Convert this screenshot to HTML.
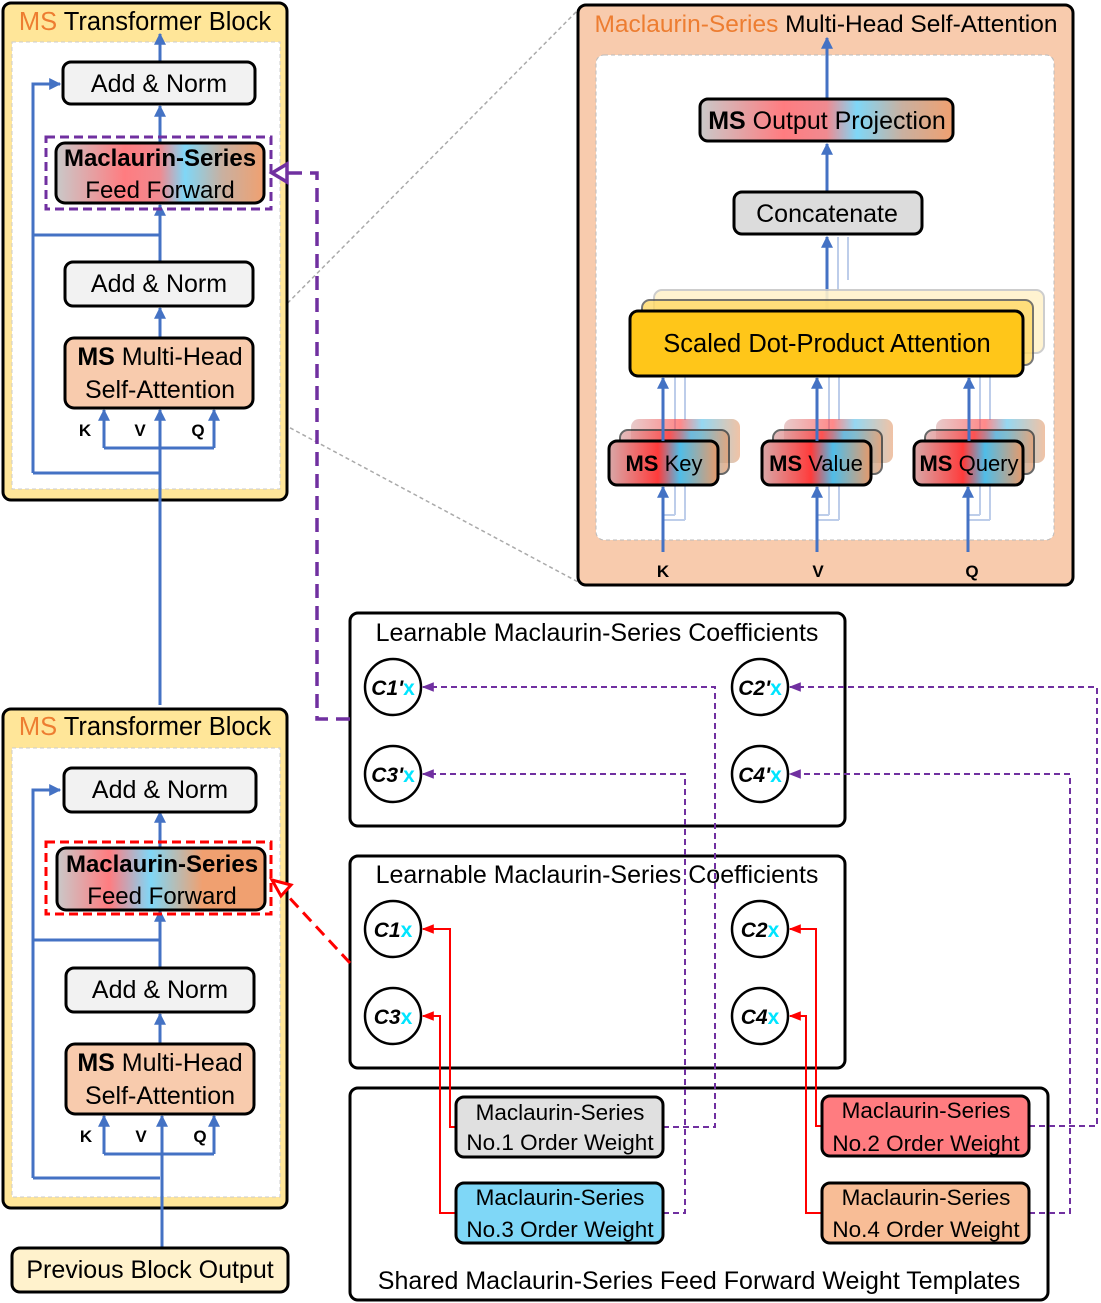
<!DOCTYPE html>
<html><head><meta charset="utf-8"><style>
html,body{margin:0;padding:0;background:#fff;}
svg{display:block;font-family:"Liberation Sans",sans-serif;}
</style></head><body>
<svg width="1101" height="1303" viewBox="0 0 1101 1303" xmlns="http://www.w3.org/2000/svg">
<defs>
<linearGradient id="ff1" x1="0" x2="1" y1="0" y2="0">
<stop offset="0" stop-color="#c9c9c9"/><stop offset="0.33" stop-color="#ff7c80"/><stop offset="0.5" stop-color="#f08a90"/><stop offset="0.62" stop-color="#7fd7f7"/><stop offset="0.8" stop-color="#c9b0a0"/><stop offset="1" stop-color="#f0a070"/>
</linearGradient>
<linearGradient id="ff2" x1="0" x2="1" y1="0" y2="0">
<stop offset="0" stop-color="#c9c9c9"/><stop offset="0.25" stop-color="#ff7c80"/><stop offset="0.45" stop-color="#7fd7f7"/><stop offset="0.7" stop-color="#f0a070"/><stop offset="1" stop-color="#f0a070"/>
</linearGradient>
<linearGradient id="kg" x1="0" x2="1" y1="0" y2="0">
<stop offset="0" stop-color="#d8a8a8"/><stop offset="0.45" stop-color="#ff3b3b"/><stop offset="0.65" stop-color="#4fbde8"/><stop offset="1" stop-color="#e79a6a"/>
</linearGradient>
<marker id="ab" viewBox="0 0 10 10" refX="9" refY="5" markerWidth="4" markerHeight="4" orient="auto"><path d="M0,0L10,5L0,10z" fill="#4472c4"/></marker>
<marker id="ar" viewBox="0 0 10 10" refX="9" refY="5" markerWidth="6" markerHeight="6" orient="auto"><path d="M0,1L10,5L0,9z" fill="#ff0000"/></marker>
<marker id="ap" viewBox="0 0 10 10" refX="9" refY="5" markerWidth="6" markerHeight="6" orient="auto"><path d="M0,1L10,5L0,9z" fill="#7030a0"/></marker>
</defs>

<line x1="253" y1="338" x2="580" y2="8" stroke="#aaa" stroke-width="1.5" stroke-dasharray="4,3"/>
<line x1="253" y1="408" x2="580" y2="583" stroke="#aaa" stroke-width="1.5" stroke-dasharray="4,3"/>

<g>
<rect x="3" y="3" width="284" height="497" rx="8" fill="#ffe699" stroke="#000" stroke-width="3"/>
<rect x="12" y="42" width="268" height="447" fill="#fff" stroke="#ccc" stroke-dasharray="4,3"/>
<text x="145" y="30" font-size="25.5" text-anchor="middle"><tspan fill="#ed7d31">MS</tspan> Transformer Block</text>
<path d="M33,473V84H60" fill="none" stroke="#4472c4" stroke-width="3" marker-end="url(#ab)"/>
<path d="M33,473H160" fill="none" stroke="#4472c4" stroke-width="3"/>
<path d="M33,235H160" fill="none" stroke="#4472c4" stroke-width="3"/>
<path d="M104,448H214" fill="none" stroke="#4472c4" stroke-width="3"/>
<line x1="104" y1="448" x2="104" y2="410" stroke="#4472c4" stroke-width="3" marker-end="url(#ab)"/>
<line x1="214" y1="448" x2="214" y2="410" stroke="#4472c4" stroke-width="3" marker-end="url(#ab)"/>
<line x1="160" y1="705" x2="160" y2="410" stroke="#4472c4" stroke-width="3" marker-end="url(#ab)"/>
<line x1="160" y1="338" x2="160" y2="308" stroke="#4472c4" stroke-width="3" marker-end="url(#ab)"/>
<line x1="160" y1="262" x2="160" y2="205" stroke="#4472c4" stroke-width="3" marker-end="url(#ab)"/>
<line x1="160" y1="143" x2="160" y2="106" stroke="#4472c4" stroke-width="3" marker-end="url(#ab)"/>
<line x1="160" y1="62" x2="160" y2="34" stroke="#4472c4" stroke-width="3" marker-end="url(#ab)"/>
<rect x="63" y="62" width="192" height="42" rx="8" fill="#f2f2f2" stroke="#000" stroke-width="3"/>
<text x="159" y="92" font-size="25" text-anchor="middle">Add &amp; Norm</text>
<rect x="46" y="137" width="225" height="72" fill="none" stroke="#7030a0" stroke-width="3" stroke-dasharray="9,5"/>
<rect x="56" y="143" width="208" height="60" rx="9" fill="url(#ff1)" stroke="#000" stroke-width="3"/>
<text x="160" y="166" font-size="24" font-weight="bold" text-anchor="middle">Maclaurin-Series</text>
<text x="160" y="198" font-size="24" text-anchor="middle">Feed Forward</text>
<rect x="65" y="262" width="188" height="44" rx="8" fill="#f2f2f2" stroke="#000" stroke-width="3"/>
<text x="159" y="292" font-size="25" text-anchor="middle">Add &amp; Norm</text>
<rect x="65" y="338" width="188" height="70" rx="9" fill="#f8cbad" stroke="#000" stroke-width="3"/>
<text x="160" y="365" font-size="25" text-anchor="middle"><tspan font-weight="bold">MS</tspan> Multi-Head</text>
<text x="160" y="398" font-size="25" text-anchor="middle">Self-Attention</text>
<text x="85" y="436" font-size="17" font-weight="bold" text-anchor="middle">K</text>
<text x="140" y="436" font-size="17" font-weight="bold" text-anchor="middle">V</text>
<text x="198" y="436" font-size="17" font-weight="bold" text-anchor="middle">Q</text>
</g>

<g transform="translate(0,706)">
<rect x="3" y="3" width="284" height="499" rx="8" fill="#ffe699" stroke="#000" stroke-width="3"/>
<rect x="12" y="42" width="268" height="449" fill="#fff" stroke="#ccc" stroke-dasharray="4,3"/>
<text x="145" y="29" font-size="25.5" text-anchor="middle"><tspan fill="#ed7d31">MS</tspan> Transformer Block</text>
<path d="M33,472V84H60" fill="none" stroke="#4472c4" stroke-width="3" marker-end="url(#ab)"/>
<path d="M33,472H160" fill="none" stroke="#4472c4" stroke-width="3"/>
<path d="M33,234H160" fill="none" stroke="#4472c4" stroke-width="3"/>
<path d="M104,448H214" fill="none" stroke="#4472c4" stroke-width="3"/>
<line x1="104" y1="448" x2="104" y2="410" stroke="#4472c4" stroke-width="3" marker-end="url(#ab)"/>
<line x1="214" y1="448" x2="214" y2="410" stroke="#4472c4" stroke-width="3" marker-end="url(#ab)"/>
<line x1="162" y1="542" x2="162" y2="410" stroke="#4472c4" stroke-width="3" marker-end="url(#ab)"/>
<line x1="160" y1="338" x2="160" y2="308" stroke="#4472c4" stroke-width="3" marker-end="url(#ab)"/>
<line x1="160" y1="262" x2="160" y2="205" stroke="#4472c4" stroke-width="3" marker-end="url(#ab)"/>
<line x1="160" y1="143" x2="160" y2="106" stroke="#4472c4" stroke-width="3" marker-end="url(#ab)"/>
<rect x="64" y="62" width="192" height="44" rx="8" fill="#f2f2f2" stroke="#000" stroke-width="3"/>
<text x="160" y="92" font-size="25" text-anchor="middle">Add &amp; Norm</text>
<rect x="46" y="136" width="225" height="72" fill="none" stroke="#ff0000" stroke-width="3" stroke-dasharray="9,5"/>
<rect x="57" y="142" width="208" height="62" rx="9" fill="url(#ff2)" stroke="#000" stroke-width="3"/>
<text x="162" y="166" font-size="24" font-weight="bold" text-anchor="middle">Maclaurin-Series</text>
<text x="162" y="198" font-size="24" text-anchor="middle">Feed Forward</text>
<rect x="66" y="262" width="188" height="44" rx="8" fill="#f2f2f2" stroke="#000" stroke-width="3"/>
<text x="160" y="292" font-size="25" text-anchor="middle">Add &amp; Norm</text>
<rect x="66" y="338" width="188" height="70" rx="9" fill="#f8cbad" stroke="#000" stroke-width="3"/>
<text x="160" y="365" font-size="25" text-anchor="middle"><tspan font-weight="bold">MS</tspan> Multi-Head</text>
<text x="160" y="398" font-size="25" text-anchor="middle">Self-Attention</text>
<text x="86" y="436" font-size="17" font-weight="bold" text-anchor="middle">K</text>
<text x="141" y="436" font-size="17" font-weight="bold" text-anchor="middle">V</text>
<text x="200" y="436" font-size="17" font-weight="bold" text-anchor="middle">Q</text>
</g>
<rect x="12" y="1248" width="276" height="44" rx="8" fill="#fff2cc" stroke="#000" stroke-width="3"/>
<text x="150" y="1278" font-size="25" text-anchor="middle">Previous Block Output</text>

<rect x="578" y="5" width="495" height="580" rx="8" fill="#f8cbad" stroke="#000" stroke-width="3"/>
<rect x="596" y="55" width="458" height="485" rx="8" fill="#fff" stroke="#bbb" stroke-dasharray="4,3"/>
<text x="826" y="32" font-size="24.5" text-anchor="middle"><tspan fill="#ed7d31">Maclaurin-Series</tspan> Multi-Head Self-Attention</text>
<line x1="827" y1="99" x2="827" y2="38" stroke="#4472c4" stroke-width="3" marker-end="url(#ab)"/>
<line x1="827" y1="192" x2="827" y2="144" stroke="#4472c4" stroke-width="3" marker-end="url(#ab)"/>
<rect x="700" y="99" width="253" height="42" rx="8" fill="url(#ff1)" stroke="#000" stroke-width="3"/>
<text x="827" y="129" font-size="25" text-anchor="middle"><tspan font-weight="bold">MS</tspan> Output Projection</text>
<g stroke="#4472c4" stroke-width="2" opacity="0.35" fill="none">
<path d="M838,290V237M848,280V237"/>
<path d="M675,515V470M685,520V470M675,515H663M685,520H663"/>
<path d="M829,515V470M839,520V470M829,515H818M839,520H818"/>
<path d="M980,515V470M990,520V470M980,515H968M990,520H968"/>
<path d="M675,430V370M685,420V360M829,430V370M839,420V360M980,430V370M990,420V360"/>
</g>
<line x1="827" y1="311" x2="827" y2="237" stroke="#4472c4" stroke-width="3" marker-end="url(#ab)"/>
<rect x="734" y="192" width="188" height="42" rx="8" fill="#dcdcdc" stroke="#000" stroke-width="3"/>
<text x="827" y="222" font-size="25" text-anchor="middle">Concatenate</text>
<rect x="654" y="290" width="390" height="63" rx="8" fill="#fff2cc" stroke="#c8c8c8" stroke-width="2" opacity="0.9"/>
<rect x="642" y="300" width="391" height="65" rx="8" fill="#ffd966" stroke="#555" stroke-width="2" opacity="0.8"/>
<rect x="630" y="311" width="393" height="65" rx="8" fill="#ffc619" stroke="#000" stroke-width="3"/>
<text x="827" y="352" font-size="25.5" text-anchor="middle">Scaled Dot-Product Attention</text>
<g>
<rect x="631" y="419" width="109" height="44" rx="8" fill="url(#kg)" opacity="0.6"/>
<rect x="620" y="430" width="109" height="44" rx="8" fill="url(#kg)" stroke="#333" stroke-width="2" opacity="0.75"/>
<rect x="609" y="441" width="109" height="44" rx="8" fill="url(#kg)" stroke="#000" stroke-width="3"/>
<text x="664" y="471" font-size="22" text-anchor="middle"><tspan font-weight="bold">MS</tspan> Key</text>
<rect x="784" y="419" width="109" height="44" rx="8" fill="url(#kg)" opacity="0.6"/>
<rect x="773" y="430" width="109" height="44" rx="8" fill="url(#kg)" stroke="#333" stroke-width="2" opacity="0.75"/>
<rect x="762" y="441" width="109" height="44" rx="8" fill="url(#kg)" stroke="#000" stroke-width="3"/>
<text x="816" y="471" font-size="22" text-anchor="middle"><tspan font-weight="bold">MS</tspan> Value</text>
<rect x="936" y="419" width="109" height="44" rx="8" fill="url(#kg)" opacity="0.6"/>
<rect x="925" y="430" width="109" height="44" rx="8" fill="url(#kg)" stroke="#333" stroke-width="2" opacity="0.75"/>
<rect x="914" y="441" width="109" height="44" rx="8" fill="url(#kg)" stroke="#000" stroke-width="3"/>
<text x="969" y="471" font-size="22" text-anchor="middle"><tspan font-weight="bold">MS</tspan> Query</text>
</g>
<g stroke="#4472c4" stroke-width="3">
<line x1="663" y1="441" x2="663" y2="378" marker-end="url(#ab)"/>
<line x1="817" y1="441" x2="817" y2="378" marker-end="url(#ab)"/>
<line x1="969" y1="441" x2="969" y2="378" marker-end="url(#ab)"/>
<line x1="663" y1="552" x2="663" y2="487" marker-end="url(#ab)"/>
<line x1="817" y1="552" x2="817" y2="487" marker-end="url(#ab)"/>
<line x1="968" y1="552" x2="968" y2="487" marker-end="url(#ab)"/>
</g>
<text x="663" y="577" font-size="17" font-weight="bold" text-anchor="middle">K</text>
<text x="818" y="577" font-size="17" font-weight="bold" text-anchor="middle">V</text>
<text x="972" y="577" font-size="17" font-weight="bold" text-anchor="middle">Q</text>

<rect x="350" y="613" width="495" height="213" rx="8" fill="#fff" stroke="#000" stroke-width="3"/>
<text x="597" y="641" font-size="25" text-anchor="middle">Learnable Maclaurin-Series Coefficients</text>
<rect x="350" y="856" width="495" height="212" rx="8" fill="#fff" stroke="#000" stroke-width="3"/>
<text x="597" y="883" font-size="25" text-anchor="middle">Learnable Maclaurin-Series Coefficients</text>
<rect x="350" y="1088" width="698" height="212" rx="8" fill="#fff" stroke="#000" stroke-width="3"/>
<text x="699" y="1289" font-size="25" text-anchor="middle">Shared Maclaurin-Series Feed Forward Weight Templates</text>

<g fill="none" stroke="#7030a0" stroke-width="2" stroke-dasharray="6,4">
<path d="M663,1127H715V687H423" marker-end="url(#ap)"/>
<path d="M663,1213H685V774H423" marker-end="url(#ap)"/>
<path d="M1029,1126H1097V687H790" marker-end="url(#ap)"/>
<path d="M1029,1213H1070V774H790" marker-end="url(#ap)"/>
</g>
<g fill="none" stroke="#ff0000" stroke-width="2">
<path d="M456,1127H450V929H423" marker-end="url(#ar)"/>
<path d="M456,1213H440V1016H423" marker-end="url(#ar)"/>
<path d="M822,1126H816V929H790" marker-end="url(#ar)"/>
<path d="M822,1213H806V1016H790" marker-end="url(#ar)"/>
</g>
<g fill="#fff" stroke="#000" stroke-width="2.5">
<circle cx="393" cy="687" r="28"/><circle cx="760" cy="687" r="28"/>
<circle cx="393" cy="774" r="28"/><circle cx="760" cy="774" r="28"/>
<circle cx="393" cy="929" r="28"/><circle cx="760" cy="929" r="28"/>
<circle cx="393" cy="1016" r="28"/><circle cx="760" cy="1016" r="28"/>
</g>
<g font-size="21" font-weight="bold" font-style="italic" text-anchor="middle">
<text x="393" y="695">C1'<tspan fill="#00e5ff" font-style="normal">x</tspan></text>
<text x="760" y="695">C2'<tspan fill="#00e5ff" font-style="normal">x</tspan></text>
<text x="393" y="782">C3'<tspan fill="#00e5ff" font-style="normal">x</tspan></text>
<text x="760" y="782">C4'<tspan fill="#00e5ff" font-style="normal">x</tspan></text>
<text x="393" y="937">C1<tspan fill="#00e5ff" font-style="normal">x</tspan></text>
<text x="760" y="937">C2<tspan fill="#00e5ff" font-style="normal">x</tspan></text>
<text x="393" y="1024">C3<tspan fill="#00e5ff" font-style="normal">x</tspan></text>
<text x="760" y="1024">C4<tspan fill="#00e5ff" font-style="normal">x</tspan></text>
</g>
<rect x="456" y="1097" width="207" height="60" rx="8" fill="#e0e0e0" stroke="#000" stroke-width="3"/>
<text x="560" y="1120" font-size="22.5" text-anchor="middle">Maclaurin-Series</text>
<text x="560" y="1150" font-size="22.5" text-anchor="middle">No.1 Order Weight</text>
<rect x="456" y="1183" width="207" height="60" rx="8" fill="#7fd7f7" stroke="#000" stroke-width="3"/>
<text x="560" y="1205" font-size="22.5" text-anchor="middle">Maclaurin-Series</text>
<text x="560" y="1237" font-size="22.5" text-anchor="middle">No.3 Order Weight</text>
<rect x="822" y="1096" width="207" height="60" rx="8" fill="#ff7c80" stroke="#000" stroke-width="3"/>
<text x="926" y="1118" font-size="22.5" text-anchor="middle">Maclaurin-Series</text>
<text x="926" y="1151" font-size="22.5" text-anchor="middle">No.2 Order Weight</text>
<rect x="822" y="1183" width="207" height="60" rx="8" fill="#f8bd96" stroke="#000" stroke-width="3"/>
<text x="926" y="1205" font-size="22.5" text-anchor="middle">Maclaurin-Series</text>
<text x="926" y="1237" font-size="22.5" text-anchor="middle">No.4 Order Weight</text>

<path d="M350,719H317V173H285" fill="none" stroke="#7030a0" stroke-width="3.5" stroke-dasharray="14,8"/>
<path d="M287,164L272,173L287,182z" fill="#fff" stroke="#7030a0" stroke-width="3.5"/>
<path d="M350,963L285,893" fill="none" stroke="#ff0000" stroke-width="3" stroke-dasharray="12,7"/>
<path d="M272,880L291,885L281,896z" fill="#fff" stroke="#ff0000" stroke-width="3"/>
</svg>
</body></html>
